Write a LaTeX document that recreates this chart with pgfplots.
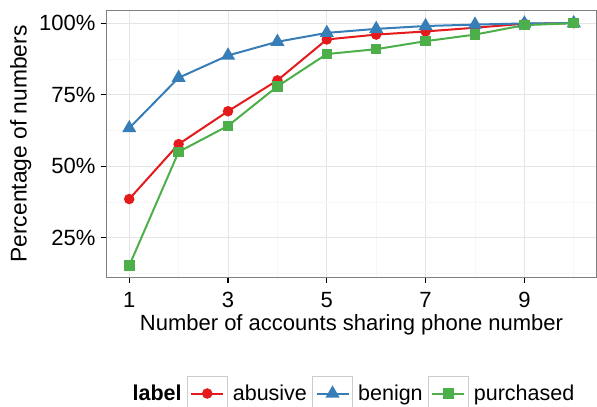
\documentclass[border=0pt]{standalone}
\usepackage{fontspec}
\setmainfont{Liberation Sans}
\usepackage{pgfplots}
\pgfplotsset{compat=1.18}
\definecolor{cred}{HTML}{E41A1C}
\definecolor{cblue}{HTML}{377EB8}
\definecolor{cgreen}{HTML}{4DAF4A}
\begin{document}
\begin{tikzpicture}
\begin{axis}[
  scale only axis, width=489bp, height=266bp,
  xmin=0.55, xmax=10.45, ymin=11.25, ymax=104.25,
  font=\fontsize{22bp}{26bp}\selectfont,
  /pgf/number format/assume math mode=true,
  xtick={1,3,5,7,9}, xticklabels={1,3,5,7,9},
  minor xtick={2,4,6,8,10},
  ytick={25,50,75,100}, yticklabels={25\%,50\%,75\%,100\%},
  minor ytick={12.5,37.5,62.5,87.5},
  grid=both,
  major grid style={black!10, line width=1bp},
  minor grid style={black!3, line width=0.7bp},
  axis line style={black!50, line width=1bp},
  tick align=outside, major tick length=6bp, minor tick length=0bp,
  major tick style={black, line width=1.3bp},
  xtick pos=bottom, ytick pos=left,
  xticklabel style={yshift=-6bp},
  yticklabel style={xshift=-2bp},
  xlabel={Number of accounts sharing phone number},
  ylabel={Percentage of numbers},
  xlabel style={yshift=0bp},
  ylabel style={yshift=1bp, font=\fontsize{22.8bp}{26bp}\selectfont},
  legend columns=-1,
  legend style={draw=none, fill=none, at={(axis description cs:0.501,-0.438)}, anchor=center,
    font=\fontsize{21.5bp}{26bp}\selectfont,
    nodes={inner sep=2bp},
    /tikz/every odd column/.append style={column sep=3bp},
    /tikz/every even column/.append style={column sep=3bp}},
  legend image code/.code={
    \draw[draw=black!20, line width=1.2bp, solid, fill=none] (0bp,-17bp) rectangle (40bp,17bp);
    \draw[mark repeat=2, mark phase=2, #1] plot coordinates {(4bp,0bp) (20bp,0bp) (36bp,0bp)};
  },
]
\addlegendimage{empty legend}
\addlegendentry{\textbf{label}}
\addplot[cred, line width=2bp, mark=*, mark size=4.2bp, mark options={solid}] coordinates {
(1,38.5) (2,57.7) (3,69.2) (4,80.0) (5,94.3) (6,96.0) (7,97.1) (8,98.4) (9,99.8) (10,100)};
\addlegendentry{abusive}
\addplot[cblue, line width=2bp, mark=triangle*, mark size=6.2bp, mark options={solid}] coordinates {
(1,63.3) (2,80.9) (3,88.7) (4,93.5) (5,96.6) (6,98.0) (7,99.0) (8,99.5) (9,99.9) (10,100)};
\addlegendentry{benign}
\addplot[cgreen, line width=2bp, mark=square*, mark size=4.3bp, mark options={solid}] coordinates {
(1,15.2) (2,55.0) (3,64.1) (4,77.9) (5,89.2) (6,90.9) (7,93.7) (8,96.0) (9,99.3) (10,100)};
\addlegendentry{purchased}
\end{axis}
\pgfresetboundingbox
\path (current axis.south west) ++(-107bp,-130bp) rectangle ++(597bp,407bp);
\end{tikzpicture}
\end{document}
